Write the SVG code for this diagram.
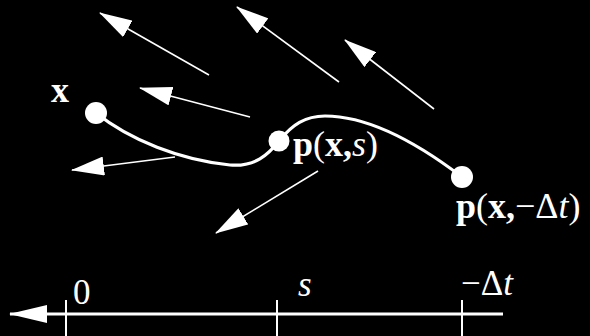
<svg xmlns="http://www.w3.org/2000/svg" width="590" height="336" viewBox="0 0 590 336">
<defs>
<style>
.lbl{font-family:"Liberation Serif","Times New Roman",serif;font-size:35px;fill:#fff}
.big{font-size:36px}
.b{font-weight:bold}
.i{font-style:italic}
.vec{stroke:#fff;stroke-width:1.6;fill:none}
.node{fill:#fff}
</style>
<marker id="ah" markerUnits="userSpaceOnUse" markerWidth="33" markerHeight="19" refX="32" refY="9.5" orient="auto">
<path d="M0,0 L33,9.5 L0,19 z" fill="#fff"/>
</marker>
<marker id="axh" markerUnits="userSpaceOnUse" markerWidth="38" markerHeight="20" refX="37" refY="10" orient="auto">
<path d="M0,1 L38,10 L0,19 z" fill="#fff"/>
</marker>
</defs>
<rect width="590" height="336" fill="#000"/>
<g id="connectors">
<line class="vec" x1="209" y1="75" x2="100" y2="13" marker-end="url(#ah)"/>
<line class="vec" x1="339" y1="82" x2="237" y2="7" marker-end="url(#ah)"/>
<line class="vec" x1="434" y1="109" x2="345" y2="40" marker-end="url(#ah)"/>
<line class="vec" x1="250" y1="117" x2="140" y2="88" marker-end="url(#ah)"/>
<line class="vec" x1="175" y1="157" x2="72" y2="170" marker-end="url(#ah)"/>
<line class="vec" x1="318" y1="171" x2="216" y2="233" marker-end="url(#ah)"/>
<path d="M96,113 C130,140 180,160 230,165 C255,167 268,155 280,140 C292,125 305,116 325,116 C370,116 420,145 462,177" stroke="#fff" stroke-width="3.2" fill="none"/>
</g>
<g id="axis">
<line x1="503" y1="314" x2="10" y2="314" stroke="#fff" stroke-width="3" marker-end="url(#axh)"/>
<line x1="66" y1="300" x2="66" y2="336" stroke="#fff" stroke-width="2"/>
<line x1="277" y1="300" x2="277" y2="336" stroke="#fff" stroke-width="2"/>
<line x1="462" y1="300" x2="462" y2="336" stroke="#fff" stroke-width="2"/>
<text class="lbl" x="73" y="304">0</text>
<text class="lbl i" x="298" y="296">s</text>
<text class="lbl" x="461" y="295">−Δ<tspan class="i">t</tspan></text>
</g>
<g id="node-x">
<circle class="node" cx="96" cy="113" r="11"/>
<text class="lbl big b" x="51" y="102">x</text>
</g>
<g id="node-pxs">
<circle class="node" cx="279" cy="141" r="10.5"/>
<text class="lbl big" x="293" y="156"><tspan class="b">p</tspan>(<tspan class="b">x,</tspan><tspan class="i">s</tspan>)</text>
</g>
<g id="node-pxdt">
<circle class="node" cx="462" cy="177" r="11"/>
<text class="lbl big" x="456" y="218"><tspan class="b">p</tspan>(<tspan class="b">x,</tspan>−Δ<tspan class="i">t</tspan>)</text>
</g>
</svg>
